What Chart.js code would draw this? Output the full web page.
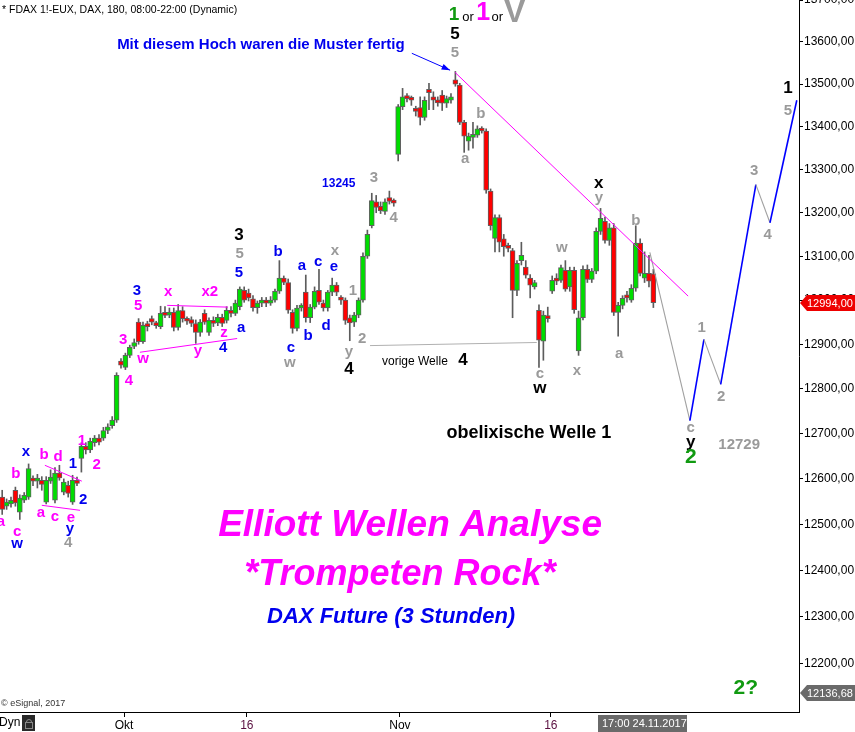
<!DOCTYPE html>
<html>
<head>
<meta charset="utf-8">
<script src="https://cdn.jsdelivr.net/npm/chart.js@4.4.0/dist/chart.umd.min.js"></script>
<style>
  html, body { margin: 0; padding: 0; background: #fff; }
  #wrap { width: 855px; height: 732px; }
</style>
</head>
<body>
<div id="wrap"><canvas id="chart" width="855" height="732"></canvas></div>
<script>
// FDAX 180 min candles (about three per trading day)
const opens = [12560,12540,12545,12575,12527,12553,12560,12600,12595,12597,12549,12595,12553,12613,12571,12586,12549,12597,12645,12672,
  12664,12680,12690,12690,12707,12718,12730,12862,12848,12875,12895,12950,12906,12945,12958,12945,12940,12972,12966,12972,
  12938,12976,12955,12956,12947,12927,12970,12927,12954,12948,12961,12954,12977,12970,12985,13022,13016,13003,12983,12993,
  13000,12993,13000,13020,13050,13040,12972,12936,12982,13018,12960,12984,13022,12993,12982,13018,13034,13005,13000,12960,
  12950,12966,13000,13100,13170,13225,13215,13203,13235,13226,13335,13447,13470,13465,13440,13445,13422,13488,13470,13460,
  13474,13455,13462,13510,13498,13410,13366,13375,13380,13394,13390,13250,13141,13189,13140,13124,13113,13022,13090,13075,
  13050,13030,12977,12907,12962,13020,13047,13045,13068,13030,13068,12885,12960,13070,13047,13066,13157,13180,13136,13165,
  12972,12988,13012,13000,13027,13130,13050,13061,13060];
const highs = [12575,12556,12560,12582,12565,12570,12633,12607,12610,12605,12605,12620,12625,12630,12600,12595,12608,12604,12680,12680,
  12690,12696,12698,12714,12722,12738,12836,12868,12880,12898,12912,12958,12950,12952,12964,12952,12986,12985,12982,12982,
  12990,12985,12962,12962,12955,12956,12978,12960,12962,12968,12968,12985,12985,13000,13030,13030,13025,13010,12998,13006,
  13006,13008,13025,13090,13055,13048,12978,12988,12992,13057,12990,13030,13070,13000,13022,13050,13040,13010,13005,12966,
  12972,13005,13108,13160,13245,13240,13225,13232,13250,13232,13452,13490,13478,13472,13448,13470,13470,13502,13482,13470,
  13485,13472,13478,13530,13502,13415,13385,13410,13402,13400,13395,13255,13195,13195,13150,13130,13118,13090,13132,13090,
  13058,13045,12989,12975,12984,13055,13060,13080,13090,13075,13075,12975,13078,13080,13072,13165,13210,13190,13175,13175,
  12995,13010,13020,13035,13170,13140,13110,13102,13070];
const lows = [12522,12533,12538,12540,12511,12548,12555,12585,12580,12575,12545,12590,12547,12597,12565,12560,12544,12585,12615,12655,
  12658,12672,12675,12685,12700,12712,12725,12846,12843,12870,12890,12900,12902,12930,12944,12936,12935,12960,12960,12930,
  12932,12950,12945,12940,12902,12918,12945,12920,12940,12942,12940,12948,12962,12965,12978,12995,12998,12975,12970,12985,
  12985,12988,12995,13015,13035,12970,12925,12930,12975,12950,12949,12980,12990,12975,12975,13010,13010,12990,12945,12908,
  12940,12960,12995,13095,13165,13200,13198,13196,13220,13215,13320,13440,13458,13450,13425,13404,13415,13440,13440,13448,
  13438,13445,13455,13495,13405,13340,13345,13350,13375,13385,13245,13160,13110,13110,13100,13110,12960,13010,13080,13050,
  13005,13025,12848,12864,12950,13015,13035,13040,13020,13020,12970,12875,12955,13040,13040,13060,13150,13130,13125,12965,
  12918,12980,12995,12995,13020,13055,13040,13030,12983];
const closes = [12533,12549,12553,12547,12558,12564,12623,12595,12600,12588,12597,12604,12613,12602,12593,12568,12597,12590,12672,12664,
  12683,12690,12681,12707,12715,12730,12830,12853,12875,12893,12904,12906,12943,12940,12950,12942,12970,12965,12973,12938,
  12976,12958,12952,12947,12927,12950,12950,12954,12947,12961,12947,12977,12970,12993,13025,13000,13005,12983,12993,13000,
  12993,13000,13020,13050,13040,12977,12936,12982,12988,12960,12984,13020,12995,12982,13018,13034,13018,13000,12954,12948,
  12966,13000,13100,13150,13228,13212,13205,13225,13226,13222,13447,13470,13466,13462,13436,13422,13462,13480,13462,13456,
  13455,13466,13470,13500,13410,13378,13378,13380,13395,13390,13252,13170,13189,13132,13122,13118,13022,13084,13102,13057,
  13034,13040,12909,12966,12958,13045,13043,13074,13025,13068,12978,12960,13070,13047,13066,13157,13187,13136,13165,12972,
  12988,13004,13005,13027,13130,13061,13061,13043,12994];

// axis labels
const xTickIdx = [27.7, 55.6, 90.4, 124.7];
const xTickText = ['Okt', '16', 'Nov', '16'];
const yTicks = [12200, 12300, 12400, 12500, 12600, 12700, 12800, 12900, 13000, 13100, 13200, 13300, 13400, 13500, 13600, 13700];
const lastPrice = 12994;
const lowMarker = 12136.68;

// projected path (c, 1, 2, 3, 4, 5)
const projIdx = [147.2, 156.3, 159.5, 163.3, 171.3, 174.5, 180.6];
const projPrice = [13109, 12729, 12911, 12810, 13265, 13177, 13462];

// trend lines: [idx0, price0, idx1, price1]
const magentaLines = [
  [102.9, 13528, 155.9, 13009],
  [9.7, 12630, 18.1, 12595],
  [9.0, 12542, 17.7, 12531],
  [37.5, 12988, 51.3, 12984],
  [31.3, 12882, 53.4, 12913]
];
const prevWave4Line = [83.6, 12897, 121.5, 12904];

// wave labels: [text, idx, price, style]
const waveLabels = [
  ['a', -0.3, 12505, 'm'], ['c', 3.4, 12483, 'm'], ['w', 3.4, 12457, 'b'], ['b', 3.1, 12612, 'm'],
  ['x', 5.4, 12659, 'b'], ['b', 9.5, 12652, 'm'], ['d', 12.7, 12648, 'm'], ['a', 8.8, 12525, 'm'],
  ['c', 12.0, 12516, 'm'], ['e', 15.6, 12514, 'm'], ['y', 15.4, 12490, 'b'], ['4', 15.0, 12459, 'g'],
  ['1', 16.1, 12634, 'b'], ['2', 18.4, 12555, 'b'], ['1', 18.1, 12683, 'm'], ['2', 21.5, 12630, 'm'],
  ['3', 27.5, 12911, 'm'], ['4', 28.8, 12817, 'm'], ['5', 30.9, 12988, 'm'], ['3', 30.6, 13022, 'b'],
  ['w', 32.0, 12868, 'm'], ['x', 37.7, 13018, 'm'], ['y', 44.5, 12886, 'm'], ['x2', 47.2, 13018, 'm'],
  ['z', 50.4, 12925, 'm'], ['4', 50.2, 12891, 'b'], ['a', 54.3, 12938, 'b'], ['3', 53.8, 13147, 'k'],
  ['5', 54.0, 13106, 'g'], ['5', 53.8, 13061, 'b'], ['b', 62.7, 13111, 'b'], ['c', 65.6, 12891, 'b'],
  ['w', 65.4, 12859, 'g'], ['b', 69.5, 12920, 'b'], ['a', 68.1, 13077, 'b'], ['c', 71.8, 13086, 'b'],
  ['d', 73.6, 12941, 'b'], ['e', 75.4, 13075, 'b'], ['x', 75.6, 13113, 'g'], ['1', 79.7, 13020, 'g'],
  ['2', 81.8, 12913, 'g'], ['y', 78.8, 12882, 'g'], ['4', 78.8, 12843, 'k'], ['13245', 76.5, 13268, 'bs'],
  ['3', 84.5, 13280, 'g'], ['4', 89.0, 13189, 'g'], ['4', 104.7, 12864, 'k'],
  ['5', 102.9, 13618, 'k'], ['5', 102.9, 13573, 'g'],
  ['b', 108.8, 13431, 'g'], ['a', 105.2, 13324, 'g'], ['c', 122.2, 12834, 'g'], ['w', 122.2, 12801, 'k'],
  ['w', 127.2, 13120, 'g'], ['x', 130.6, 12841, 'g'], ['x', 135.6, 13268, 'k'], ['y', 135.6, 13235, 'g'],
  ['b', 144.0, 13182, 'g'], ['a', 140.2, 12879, 'g'],
  ['1', 159.0, 12936, 'g'], ['2', 163.4, 12783, 'g'], ['c', 156.5, 12714, 'g'], ['y', 156.5, 12681, 'k'],
  ['2', 156.5, 12648, 'G'], ['12729', 167.5, 12676, 'g'], ['3', 170.9, 13296, 'g'], ['4', 174.0, 13148, 'g'],
  ['1', 178.6, 13491, 'k'], ['5', 178.6, 13438, 'g'], ['2?', 169.0, 12148, 'G'],
  ['1', 102.7, 13664, 'top1'], ['or', 105.9, 13659, 'or'], ['1', 109.3, 13668, 'top2'], ['or', 112.5, 13659, 'or'],
  ['V', 116.5, 13668, 'topV']
];
// free text: [text, idx, price, style]
const notes = [
  ['Mit diesem Hoch waren die Muster fertig', 58.8, 13592, 'note'],
  ['vorige Welle', 93.8, 12861, 'plain'],
  ['obelixische Welle 1', 119.7, 12701, 'obel'],
  ['Elliott Wellen Analyse', 92.7, 12498, 'title'],
  ['*Trompeten Rock*', 90.4, 12390, 'title2'],
  ['DAX Future (3 Stunden)', 88.4, 12300, 'sub']
];
const arrowFrom = [93.1, 13573];
const arrowTo = [101.8, 13533];

const FONT = "'Liberation Sans', Arial, sans-serif";
const labelStyles = {
  m: { color: '#ff00ff', font: 'bold 15px ' + FONT },
  b: { color: '#0000ee', font: 'bold 15px ' + FONT },
  bs: { color: '#0000ee', font: 'bold 12px ' + FONT },
  g: { color: '#9a9a9a', font: 'bold 15px ' + FONT },
  k: { color: '#000000', font: 'bold 17px ' + FONT },
  G: { color: '#119a11', font: 'bold 21px ' + FONT },
  or: { color: '#000000', font: '13px ' + FONT },
  top1: { color: '#119a11', font: 'bold 19px ' + FONT },
  top2: { color: '#ff00ff', font: 'bold 25px ' + FONT },
  topV: { color: '#9a9a9a', font: 'bold 32px ' + FONT },
  note: { color: '#0000ee', font: 'bold 15px ' + FONT },
  plain: { color: '#000000', font: '12px ' + FONT },
  obel: { color: '#000000', font: 'bold 18px ' + FONT },
  title: { color: '#ff00ff', font: 'italic bold 37px ' + FONT },
  title2: { color: '#ff00ff', font: 'italic bold 36px ' + FONT },
  sub: { color: '#0000ee', font: 'italic bold 22px ' + FONT }
};

const fmt = (v) => v.toFixed(2).replace('.', ',');
const candleIdx = opens.map((_, i) => i);
const projColors = ['#a0a0a0', '#0000ff', '#a0a0a0', '#0000ff', '#a0a0a0', '#0000ff'];

function lineSet(pts, color, width) {
  return {
    type: 'line',
    data: pts,
    borderColor: color,
    borderWidth: width,
    pointRadius: 0,
    tension: 0,
    order: 0
  };
}

const datasets = [
  {
    type: 'bar',
    data: candleIdx.map((i) => ({ x: i, y: [opens[i], closes[i]] })),
    backgroundColor: candleIdx.map((i) => (closes[i] >= opens[i] ? '#00dd00' : '#ff0000')),
    borderColor: '#606060',
    borderWidth: 1,
    borderSkipped: false,
    barThickness: 5,
    minBarLength: 3,
    grouped: false,
    order: 1
  },
  {
    type: 'bar',
    data: candleIdx.map((i) => ({ x: i, y: [lows[i], highs[i]] })),
    backgroundColor: '#5c5c5c',
    barThickness: 1,
    grouped: false,
    order: 2
  },
  lineSet([{ x: prevWave4Line[0], y: prevWave4Line[1] }, { x: prevWave4Line[2], y: prevWave4Line[3] }], '#b0b0b0', 1),
  ...magentaLines.map((l) => lineSet([{ x: l[0], y: l[1] }, { x: l[2], y: l[3] }], '#ff00ff', 1)),
  {
    type: 'line',
    data: projIdx.map((v, i) => ({ x: v, y: projPrice[i] })),
    borderWidth: 1.5,
    pointRadius: 0,
    segment: {
      borderColor: (c) => projColors[c.p0DataIndex],
      borderWidth: (c) => (projColors[c.p0DataIndex] === '#0000ff' ? 1.6 : 1.1)
    },
    order: 0
  }
];

const overlay = {
  id: 'overlay',
  afterDatasetsDraw(chart) {
    const { ctx, scales: { x, y } } = chart;
    ctx.save();
    ctx.textAlign = 'center';
    ctx.textBaseline = 'middle';
    [...waveLabels, ...notes].forEach(([t, i, p, s]) => {
      const st = labelStyles[s];
      ctx.font = st.font;
      ctx.fillStyle = st.color;
      ctx.fillText(t, x.getPixelForValue(i), y.getPixelForValue(p));
    });
    // arrow pointing at the high
    const x0 = x.getPixelForValue(arrowFrom[0]), y0 = y.getPixelForValue(arrowFrom[1]);
    const x1 = x.getPixelForValue(arrowTo[0]), y1 = y.getPixelForValue(arrowTo[1]);
    ctx.strokeStyle = '#0000ff';
    ctx.fillStyle = '#0000ff';
    ctx.lineWidth = 1;
    ctx.beginPath(); ctx.moveTo(x0, y0); ctx.lineTo(x1, y1); ctx.stroke();
    const a = Math.atan2(y1 - y0, x1 - x0);
    ctx.beginPath();
    ctx.moveTo(x1, y1);
    ctx.lineTo(x1 - 9 * Math.cos(a - 0.35), y1 - 9 * Math.sin(a - 0.35));
    ctx.lineTo(x1 - 9 * Math.cos(a + 0.35), y1 - 9 * Math.sin(a + 0.35));
    ctx.closePath(); ctx.fill();
    ctx.restore();
  },
  afterDraw(chart) {
    const { ctx, chartArea: area, scales: { y } } = chart;
    ctx.save();
    ctx.textBaseline = 'middle';
    ctx.textAlign = 'left';
    ctx.fillStyle = '#000';
    ctx.font = '10.5px ' + FONT;
    ctx.fillText('* FDAX 1!-EUX, DAX, 180, 08:00-22:00 (Dynamic)', 2, 10);
    ctx.font = '9px ' + FONT;
    ctx.fillStyle = '#333';
    ctx.fillText('\u00a9 eSignal, 2017', 1, area.bottom - 8);
    ctx.font = '12px ' + FONT;
    ctx.fillStyle = '#000';
    ctx.fillText('Dyn', -1, area.bottom + 11);
    ctx.fillStyle = '#2a2a2a';
    ctx.fillRect(22, area.bottom + 3, 13, 16);
    ctx.strokeStyle = '#888';
    ctx.strokeRect(25.5, area.bottom + 10.5, 7, 6);
    ctx.beginPath(); ctx.arc(29, area.bottom + 10, 2.5, Math.PI, 0); ctx.stroke();

    // date box
    ctx.fillStyle = '#6a6a6a';
    ctx.fillRect(598, area.bottom + 3, 89, 17);
    ctx.fillStyle = '#fff';
    ctx.font = '11px ' + FONT;
    ctx.fillText('17:00 24.11.2017', 602, area.bottom + 12);

    // price markers on the right axis
    const marker = (val, bg) => {
      const py = Math.round(y.getPixelForValue(val));
      const left = area.right + 1;
      ctx.fillStyle = bg;
      ctx.beginPath();
      ctx.moveTo(left, py);
      ctx.lineTo(left + 7, py - 8);
      ctx.lineTo(855, py - 8);
      ctx.lineTo(855, py + 8);
      ctx.lineTo(left + 7, py + 8);
      ctx.closePath();
      ctx.fill();
      ctx.fillStyle = '#fff';
      ctx.font = '11px ' + FONT;
      ctx.fillText(fmt(val), left + 7, py + 1);
    };
    marker(lastPrice, '#ee0000');
    marker(lowMarker, '#6a6a6a');
    ctx.restore();
  }
};

new Chart(document.getElementById('chart'), {
  type: 'bar',
  data: { datasets },
  options: {
    responsive: false,
    animation: false,
    layout: { padding: 0 },
    plugins: { legend: { display: false }, tooltip: { enabled: false } },
    scales: {
      x: {
        type: 'linear',
        min: -0.5,
        max: 181.1,
        offset: false,
        grid: { offset: false, drawOnChartArea: false, drawTicks: true, tickLength: 5, color: '#000' },
        border: { display: true, color: '#000', width: 1 },
        ticks: {
          autoSkip: false,
          maxRotation: 0,
          padding: 1,
          font: { family: FONT, size: 12 },
          color: (c) => (c.tick && c.tick.label === '16' ? '#5a1040' : '#000'),
          callback: (v) => xTickText[xTickIdx.indexOf(v)]
        },
        afterBuildTicks: (s) => { s.ticks = xTickIdx.map((v) => ({ value: v })); },
        afterFit: (s) => { s.height = 20; s.paddingLeft = 0; s.paddingRight = 0; }
      },
      y: {
        type: 'logarithmic',
        position: 'right',
        min: 12097,
        max: 13700,
        grid: { drawOnChartArea: false, drawTicks: true, tickLength: 4, color: '#000' },
        border: { display: true, color: '#000', width: 1 },
        ticks: {
          padding: 1,
          font: { family: FONT, size: 12 },
          color: '#000',
          callback: (v) => fmt(v)
        },
        afterBuildTicks: (s) => { s.ticks = yTicks.map((v) => ({ value: v })); },
        afterFit: (s) => { s.width = 56; s.paddingTop = 0; s.paddingBottom = 0; }
      }
    }
  },
  plugins: [overlay]
});
</script>
</body>
</html>
